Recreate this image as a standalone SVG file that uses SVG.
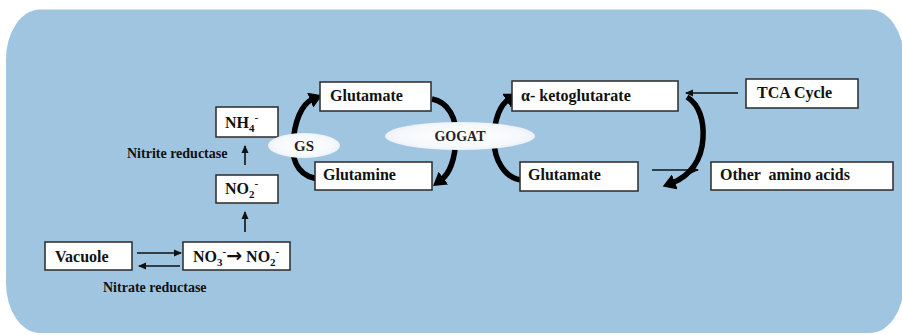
<svg xmlns="http://www.w3.org/2000/svg" width="902" height="335" viewBox="0 0 902 335">
<style>
.box{fill:#fff;stroke:#2a2a2a;stroke-width:1.5}
.t{font-family:"Liberation Serif","Times New Roman",serif;font-weight:bold;font-size:16px;fill:#111}
.s{font-family:"Liberation Serif","Times New Roman",serif;font-weight:bold;font-size:14px;fill:#111}
.e{font-family:"Liberation Serif","Times New Roman",serif;font-weight:bold;fill:#222}
.thin{fill:none;stroke:#111;stroke-width:1.6}
.thick{fill:none;stroke:#000;stroke-width:5.5;stroke-linecap:butt}
.ell{fill:url(#eg)}
</style>
<defs>
<radialGradient id="eg" cx="0.5" cy="0.5" r="0.6">
<stop offset="0" stop-color="#ffffff"/>
<stop offset="0.7" stop-color="#f5f8fb"/>
<stop offset="1" stop-color="#dfe9f3"/>
</radialGradient>
<marker id="ah" markerUnits="userSpaceOnUse" markerWidth="8" markerHeight="8" refX="7" refY="4" orient="auto">
<path d="M0,0.5 L8,4 L0,7.5 z" fill="#111"/>
</marker>
<marker id="big" markerUnits="userSpaceOnUse" markerWidth="14" markerHeight="16" refX="3" refY="8" orient="auto">
<path d="M0,0 L13,8 L0,16 z" fill="#000"/>
</marker>
</defs>
<rect x="6" y="9.5" width="898" height="323.5" rx="34" ry="50" fill="#a0c5e1"/>

<g id="connectors">
<path class="thin" d="M137,253 H181" marker-end="url(#ah)"/>
<path class="thin" d="M180,266 H139" marker-end="url(#ah)" stroke-width="2.2"/>
<path class="thin" d="M245,232 V212" marker-end="url(#ah)"/>
<path class="thin" d="M245,165 V146" marker-end="url(#ah)"/>
<path class="thin" d="M738,93 H686" marker-end="url(#ah)"/>
<path class="thin" d="M652,170 H698" marker-end="url(#ah)"/>
<path class="thick" d="M321,179 C301,178 292,164 293,145 C294,123 301,104 313,99" marker-end="url(#big)"/>
<path class="thick" d="M432,99 C448,102 457,118 456,138 C455,160 449,174 441,180" marker-end="url(#big)"/>
<path class="thick" d="M521,180 C505,178 494,160 494,140 C494,118 501,104 509,99" marker-end="url(#big)"/>
<path class="thick" d="M687,97 C700,105 704,122 703,138 C702,160 690,176 672,183" marker-end="url(#big)"/>
</g>

<g id="vacuole"><rect class="box" x="45" y="242" width="87" height="28"/><text class="t" x="55" y="261.5">Vacuole</text></g>
<g id="no3"><rect class="box" x="183" y="242" width="107" height="28"/><text class="t" x="193" y="261.5">NO<tspan font-size="11" dy="4">3</tspan><tspan font-size="11" dy="-11">-</tspan><tspan dy="7" font-size="19" font-family="'DejaVu Sans',sans-serif">→</tspan><tspan> NO</tspan><tspan font-size="11" dy="4">2</tspan><tspan font-size="11" dy="-11">-</tspan></text></g>
<g id="no2"><rect class="box" x="216" y="175" width="62" height="28"/><text class="t" x="225" y="194">NO<tspan font-size="11" dy="4">2</tspan><tspan font-size="11" dy="-11">-</tspan></text></g>
<g id="nh4"><rect class="box" x="216" y="107" width="62" height="30"/><text class="t" x="225" y="128">NH<tspan font-size="11" dy="4">4</tspan><tspan font-size="11" dy="-11">-</tspan></text></g>
<g id="nitrite-reductase"><text class="s" x="127" y="158">Nitrite reductase</text></g>
<g id="nitrate-reductase"><text class="s" x="103" y="292">Nitrate reductase</text></g>
<g id="glutamate1"><rect class="box" x="320" y="82" width="111" height="29"/><text class="t" x="330" y="101">Glutamate</text></g>
<g id="glutamine"><rect class="box" x="315" y="162" width="117" height="28"/><text class="t" x="323" y="180">Glutamine</text></g>
<g id="gs"><ellipse class="ell" cx="304" cy="145.5" rx="36" ry="12.5"/><text class="e" font-size="15" x="304" y="151" text-anchor="middle">GS</text></g>
<g id="gogat"><ellipse class="ell" cx="460" cy="136" rx="75" ry="14"/><text class="e" font-size="14" x="460" y="141" text-anchor="middle">GOGAT</text></g>
<g id="aketoglutarate"><rect class="box" x="512" y="81" width="166" height="30"/><text class="t" x="521" y="101">α- ketoglutarate</text></g>
<g id="glutamate2"><rect class="box" x="520" y="162" width="118" height="29"/><text class="t" x="528" y="180">Glutamate</text></g>
<g id="tca"><rect class="box" x="746" y="79" width="112" height="29"/><text class="t" x="757" y="98">TCA Cycle</text></g>
<g id="other"><rect class="box" x="711" y="162" width="182" height="28"/><text class="t" x="720" y="180" xml:space="preserve">Other  amino acids</text></g>
</svg>
